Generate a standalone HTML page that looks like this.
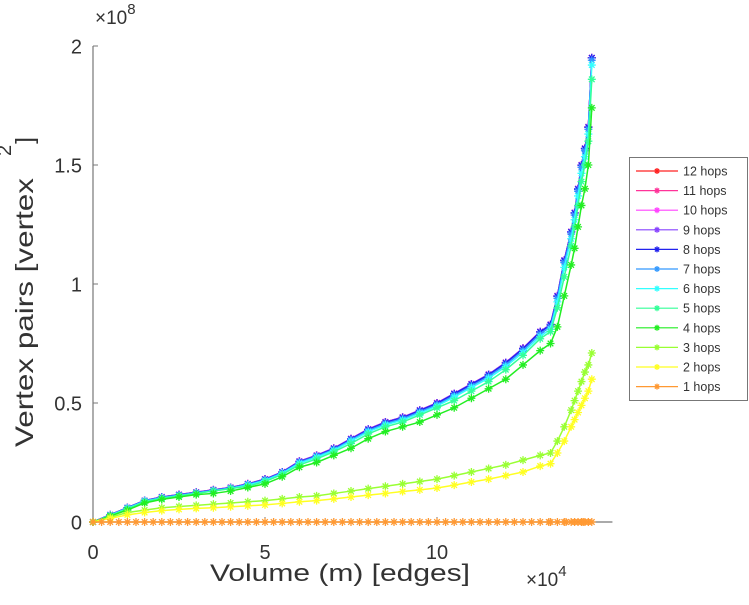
<!DOCTYPE html>
<html><head><meta charset="utf-8"><style>
body{margin:0;background:#fff;}
svg{font-family:"Liberation Sans",sans-serif;}
</style></head><body>
<svg id="chart" width="749" height="600" viewBox="0 0 749 600">
<g id="axes"></g>
<g id="series"></g>
<g id="legend"></g>
</svg>
<script>
const xs = [0,0.5,1,1.5,2,2.5,3,3.5,4,4.5,5,5.5,6,6.5,7,7.5,8,8.5,9,9.5,10,10.5,11,11.5,12,12.5,13,13.3,13.5,13.7,13.9,14.0,14.1,14.2,14.3,14.4,14.5];
const s9 = [0,0.03,0.06,0.09,0.105,0.115,0.125,0.135,0.145,0.16,0.18,0.21,0.255,0.28,0.31,0.35,0.39,0.42,0.44,0.47,0.50,0.54,0.58,0.62,0.67,0.73,0.80,0.83,0.95,1.10,1.22,1.30,1.40,1.50,1.57,1.66,1.95];
const s8 = [0,0.03,0.06,0.09,0.104,0.114,0.124,0.134,0.144,0.159,0.179,0.209,0.253,0.278,0.308,0.348,0.388,0.418,0.438,0.468,0.498,0.538,0.578,0.618,0.668,0.728,0.798,0.828,0.948,1.098,1.218,1.298,1.398,1.498,1.568,1.658,1.95];
const s7 = [0,0.029,0.059,0.089,0.103,0.113,0.123,0.133,0.143,0.158,0.177,0.207,0.251,0.276,0.305,0.345,0.384,0.414,0.434,0.463,0.493,0.532,0.572,0.612,0.661,0.721,0.790,0.820,0.940,1.090,1.210,1.290,1.390,1.490,1.560,1.650,1.94];
const s6 = [0,0.028,0.057,0.087,0.101,0.111,0.121,0.131,0.141,0.155,0.174,0.204,0.247,0.272,0.301,0.340,0.379,0.408,0.428,0.457,0.487,0.525,0.565,0.604,0.653,0.712,0.780,0.810,0.925,1.070,1.190,1.270,1.370,1.465,1.535,1.630,1.92];
const s5 = [0,0.027,0.055,0.085,0.10,0.11,0.12,0.13,0.14,0.15,0.17,0.20,0.24,0.265,0.295,0.33,0.37,0.40,0.42,0.45,0.48,0.51,0.55,0.59,0.64,0.70,0.77,0.80,0.90,1.03,1.16,1.24,1.33,1.43,1.50,1.60,1.86];
const s4 = [0,0.025,0.05,0.08,0.095,0.105,0.115,0.12,0.13,0.145,0.16,0.19,0.23,0.25,0.28,0.31,0.35,0.38,0.40,0.42,0.45,0.48,0.52,0.56,0.60,0.66,0.72,0.75,0.82,0.95,1.08,1.15,1.24,1.33,1.40,1.50,1.74];
const s3 = [0,0.02,0.04,0.05,0.06,0.065,0.07,0.075,0.08,0.085,0.09,0.097,0.105,0.11,0.12,0.13,0.14,0.15,0.16,0.17,0.18,0.195,0.21,0.225,0.24,0.26,0.28,0.29,0.34,0.40,0.47,0.51,0.55,0.59,0.63,0.66,0.71];
const s2 = [0,0.015,0.03,0.04,0.048,0.053,0.057,0.06,0.064,0.068,0.072,0.078,0.085,0.09,0.097,0.105,0.113,0.12,0.128,0.135,0.143,0.155,0.168,0.18,0.195,0.21,0.235,0.245,0.29,0.34,0.40,0.43,0.46,0.49,0.52,0.55,0.60];
const s1 = [0,0,0,0,0,0,0,0,0,0,0,0,0,0,0,0,0,0,0,0,0,0,0,0,0,0,0,0,0,0,0,0,0,0,0,0,0];
const labels = ["12 hops","11 hops","10 hops","9 hops","8 hops","7 hops","6 hops","5 hops","4 hops","3 hops","2 hops","1 hops"];
const colors = ["#ff2020","#ff3399","#ff44ff","#8844ff","#2222ee","#3399ff","#33ffff","#33ff99","#22ee22","#99ff33","#ffff22","#ff9933"];
const seriesData = [s9,s9,s9,s9,s8,s7,s6,s5,s4,s3,s2,s1];
const xTicks = [0,5,10];
const yTicks = [0,0.5,1,1.5,2];
const yTickLabels = ["0","0.5","1","1.5","2"];

const NS="http://www.w3.org/2000/svg";
const X0=93, XS=34.4, Y0=522, YS=238;
const xp=v=>X0+v*XS, yp=v=>Y0-v*YS;
function mk(t,a,p){const e=document.createElementNS(NS,t);for(const k in a)e.setAttribute(k,a[k]);p.appendChild(e);return e;}
const ax=document.getElementById('axes');
let e=mk('line',{x1:X0,y1:yp(2),x2:X0,y2:Y0,stroke:'#777','stroke-width':1.2},ax);

e=mk('line',{x1:X0,y1:Y0,x2:xp(15.1),y2:Y0,stroke:'#777','stroke-width':1.2},ax);

xTicks.forEach(t=>{mk('line',{x1:xp(t),y1:Y0,x2:xp(t),y2:Y0-5,stroke:'#777'},ax);
 const tx=mk('text',{x:xp(t),y:559,'text-anchor':'middle','font-size':20,fill:'#333'},ax);tx.textContent=t;
 });
yTicks.forEach((t,i)=>{mk('line',{x1:X0,y1:yp(t),x2:X0+5,y2:yp(t),stroke:'#777'},ax);
 const tx=mk('text',{x:X0-11,y:yp(t)+7.5,'text-anchor':'end','font-size':20,fill:'#333'},ax);tx.textContent=yTickLabels[i];
 });
e=mk('text',{x:210,y:581,'font-size':24,fill:'#333',textLength:260,lengthAdjust:'spacingAndGlyphs'},ax);e.textContent='Volume (m) [edges]';

e=mk('text',{x:526,y:586,'font-size':19,fill:'#333'},ax);e.innerHTML='×10<tspan dy="-10" font-size="15">4</tspan>';

e=mk('text',{x:95,y:24,'font-size':19,fill:'#333'},ax);e.innerHTML='×10<tspan dy="-10" font-size="15">8</tspan>';

e=mk('text',{x:0,y:0,'font-size':25,fill:'#333',transform:'translate(33,447) rotate(-90)'},ax);
e.innerHTML='<tspan textLength="269" lengthAdjust="spacingAndGlyphs">Vertex pairs [vertex</tspan><tspan dx="22" dy="-22" font-size="20">2</tspan><tspan dx="1" dy="22">]</tspan>';


function star(g,x,y,c,r){
 mk('path',{d:`M${x-r},${y}H${x+r}M${x},${y-r}V${y+r}M${x-r*0.7},${y-r*0.7}L${x+r*0.7},${y+r*0.7}M${x-r*0.7},${y+r*0.7}L${x+r*0.7},${y-r*0.7}`,stroke:c,'stroke-width':1.3,fill:'none'},g);
}
const sg=document.getElementById('series');
for(let i=0;i<seriesData.length;i++){
 const d=seriesData[i];
 const g=mk('g',{},sg);
 
 
 mk('polyline',{points:xs.map((x,j)=>xp(x)+','+yp(d[j])).join(' '),fill:'none',stroke:colors[i],'stroke-width':1.5},g);
 xs.forEach((x,j)=>star(g,xp(x),yp(d[j]),colors[i],4));
 if(i===11){for(let k=0;k<29;k++)star(g,xp(0.25+k*0.5),yp(0),colors[i],4);}
}
const lg=document.getElementById('legend');
e=mk('rect',{x:629.5,y:157.5,width:118,height:243,fill:'#fff',stroke:'#777'},lg);

labels.forEach((l,i)=>{
 const y=171+i*19.6;
 const g=mk('g',{},lg);
 
 
 mk('line',{x1:636,y1:y,x2:678,y2:y,stroke:colors[i],'stroke-width':1.2},g);
 star(g,657,y,colors[i],3);
 const t=mk('text',{x:683,y:y+4.5,'font-size':12.5,fill:'#333'},g);t.textContent=l;
});
</script>
</body></html>
